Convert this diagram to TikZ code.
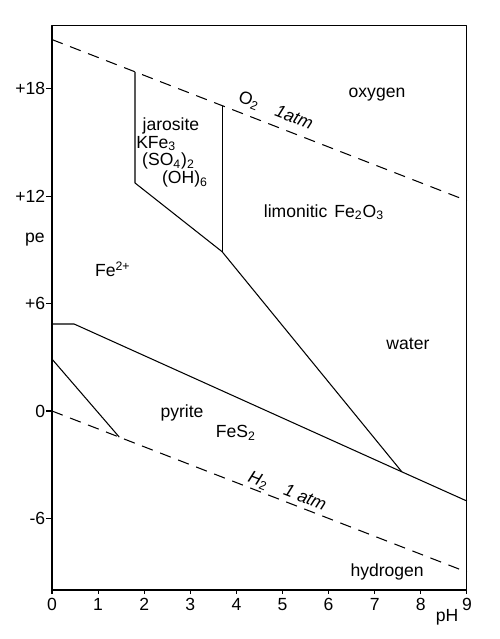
\documentclass[tikz,border=0pt]{standalone}
\usepackage{fontspec}
\setmainfont{Liberation Sans}
\begin{document}
\begin{tikzpicture}[
  bnd/.style={line width=0.6pt, line join=round},
  gasline/.style={line width=0.6pt, dash pattern=on 6.5pt off 4.5pt},
  lbl/.style={font=\fontsize{10}{12}\selectfont, inner sep=0pt},
  ticklbl/.style={font=\fontsize{10}{12}\selectfont, inner sep=0pt}
]
\useasboundingbox (0,0) rectangle (10,12.78);
\begin{scope}[shift={(1.04,4.56)}, x=0.922cm, y=0.358cm]
  % frame
  \draw[bnd] (0,-10) rectangle (9,21.56);
  % ticks and labels
  \foreach \v in {0,...,9} {
    \draw[bnd] (\v,-10) -- (\v,-10.25);
    \node[ticklbl, anchor=north] (xt\v) at (\v,-10.45) {\v};
  }
  \foreach \v/\t in {-6/-6,0/0,6/+6,12/+12,18/+18} {
    \draw[bnd] (0,\v) -- (-0.12,\v);
    \node[ticklbl, anchor=east] (yt\v) at (-0.14,\v) {\t};
  }
  \node[lbl] (pe) at (-0.37,9.55) {pe};
  \node[lbl] (ph) at (8.57,-11.5) {pH};
  % gas lines
  \coordinate (o2a) at (0,20.75);
  \coordinate (o2b) at (9,11.75);
  \draw[gasline] (o2a) -- (o2b);
  \coordinate (h2a) at (0,0);
  \coordinate (h2b) at (9,-9);
  \draw[gasline] (h2a) -- (h2b);
  % boundaries
  \coordinate (j1) at (1.8,18.95);
  \coordinate (j2) at (1.8,12.74);
  \coordinate (j3) at (3.69,8.9);
  \coordinate (j4) at (3.69,17.06);
  \coordinate (t1) at (7.59,-3.4);
  \coordinate (p0) at (0,4.86);
  \coordinate (p1) at (0.48,4.86);
  \coordinate (p2) at (9,-5.03);
  \coordinate (q0) at (0,2.9);
  \coordinate (q1) at (1.46,-1.46);
  \draw[bnd] (j1) -- (j2) -- (j3) -- (t1);
  \draw[bnd] (j4) -- (j3);
  \draw[bnd] (p0) -- (p1) -- (t1) -- (p2);
  \draw[bnd] (q0) -- (q1);
  % gas labels
  \node[lbl, rotate=-21.2] (o2l) at (4.85,16.75) {O\textsubscript{2}\hspace{1em}\textit{1atm}};
  \node[lbl, rotate=-21.2] (h2l) at (5.1,-4.5) {\textit{H}\textsubscript{2}\hspace{1em}\textit{1 atm}};
  % region labels
  \node[lbl] (oxy) at (7.05,17.65) {oxygen};
  \node[lbl] (lim) at (5.9,11.1) {limonitic\hspace{0.4em}Fe\textsubscript{2}O\textsubscript{3}};
  \node[lbl] (fe) at (1.32,7.9) {Fe\textsuperscript{2+}};
  \node[lbl] (wat) at (7.72,3.74) {water};
  \node[lbl] (pyr) at (2.82,-0.1) {pyrite};
  \node[lbl] (fes) at (3.99,-1.23) {FeS\textsubscript{2}};
  \node[lbl] (hyd) at (7.27,-9.0) {hydrogen};
  \node[lbl] (jar) at (2.58,15.95) {jarosite};
  \node[lbl, anchor=west] (kfe) at (1.82,14.95) {KFe\textsubscript{3}};
  \node[lbl, anchor=west] (so4) at (1.95,13.95) {(SO\textsubscript{4})\textsubscript{2}};
  \node[lbl, anchor=west] (oh) at (2.38,12.95) {(OH)\textsubscript{6}};
\end{scope}
\end{tikzpicture}
\end{document}
